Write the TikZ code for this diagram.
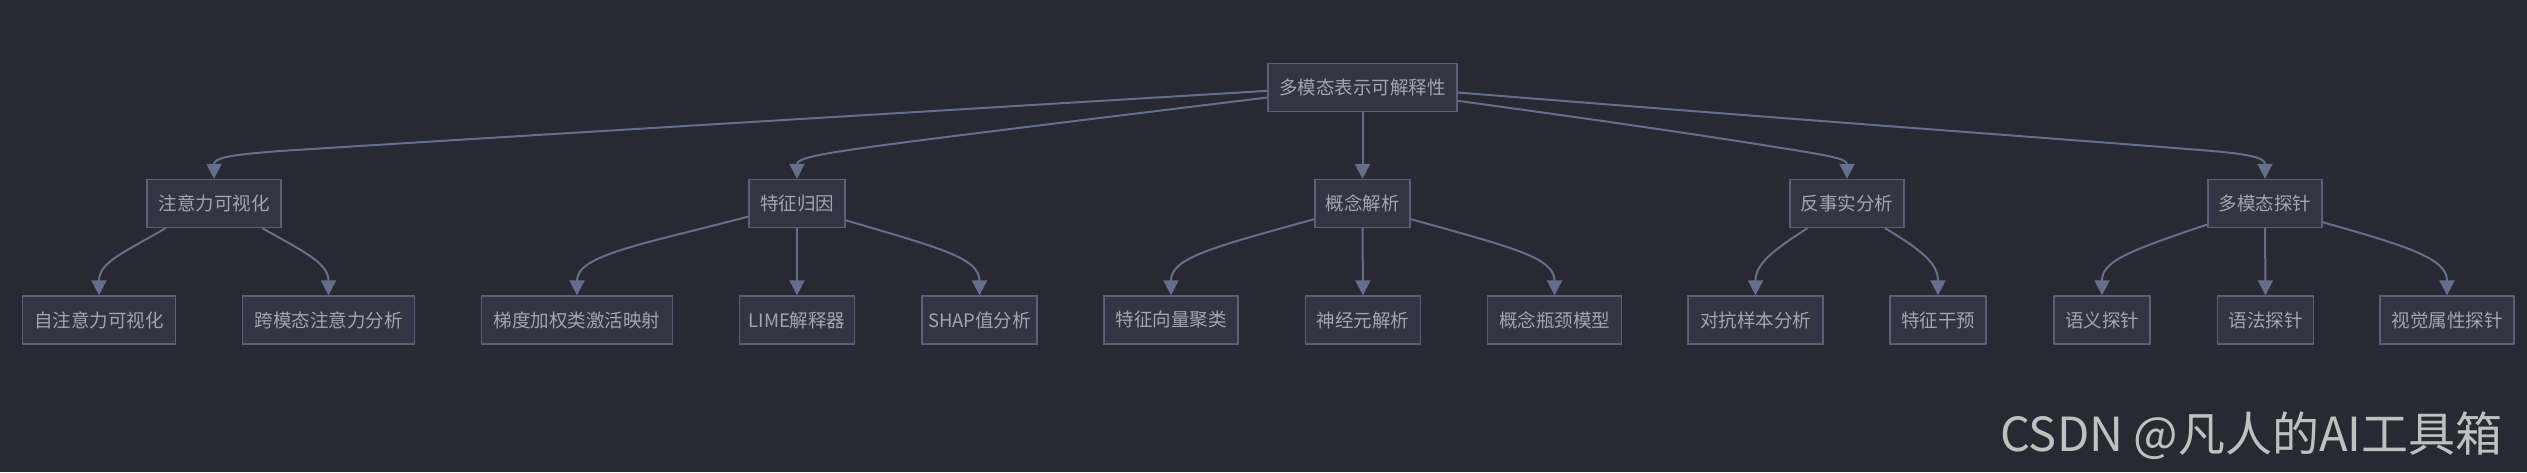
\documentclass[tikz,border=0pt]{standalone}
\usepackage{fontspec}
\setmainfont{Noto Sans CJK SC}
\newfontfamily\wmfont{Noto Sans CJK SC}
\usetikzlibrary{arrows.meta}
\definecolor{bgc}{HTML}{272A33}
\definecolor{boxfill}{HTML}{323642}
\definecolor{boxline}{HTML}{596176}
\definecolor{txt}{HTML}{A2A6B2}
\definecolor{edgec}{HTML}{666F88}
\definecolor{wmc}{HTML}{C0C0C0}
\tikzset{
  box/.style={draw=boxline, fill=boxfill, line width=1.3pt, text=txt,
    minimum height=48pt, inner sep=0pt, font=\fontsize{18.5}{20}\selectfont},
  edge/.style={draw=edgec, line width=2pt, -{Triangle[length=15pt,width=15pt]}}
}
\begin{document}
\begin{tikzpicture}[x=1pt,y=-1pt]
\fill[bgc] (0,0) rectangle (2527,472);
\useasboundingbox (0,0) rectangle (2527,472);
% root
\node[box, minimum width=189pt] (root) at (1362.5,87.5) {多模态表示可解释性};
% level 1
\node[box, minimum width=134pt] (a1) at (214,203.5) {注意力可视化};
\node[box, minimum width=96pt] (a2) at (797,203.5) {特征归因};
\node[box, minimum width=95pt] (a3) at (1362.5,203.5) {概念解析};
\node[box, minimum width=114pt] (a4) at (1847,203.5) {反事实分析};
\node[box, minimum width=114pt] (a5) at (2265,203.5) {多模态探针};
% level 2
\node[box, minimum width=153pt] (b1) at (99,320) {自注意力可视化};
\node[box, minimum width=172pt] (b2) at (328.5,320) {跨模态注意力分析};
\node[box, minimum width=191pt] (b3) at (577,320) {梯度加权类激活映射};
\node[box, minimum width=115pt] (b4) at (797,320) {LIME解释器};
\node[box, minimum width=115pt] (b5) at (979.5,320) {SHAP值分析};
\node[box, minimum width=134pt] (b6) at (1171,320) {特征向量聚类};
\node[box, minimum width=115pt] (b7) at (1363,320) {神经元解析};
\node[box, minimum width=134pt] (b8) at (1554.5,320) {概念瓶颈模型};
\node[box, minimum width=135pt] (b9) at (1755.5,320) {对抗样本分析};
\node[box, minimum width=96pt] (b10) at (1938,320) {特征干预};
\node[box, minimum width=96pt] (b11) at (2102,320) {语义探针};
\node[box, minimum width=96pt] (b12) at (2265.5,320) {语法探针};
\node[box, minimum width=134pt] (b13) at (2447,320) {视觉属性探针};
% root edges
\draw[edge] (root.182.4) .. controls (900,113) and (500,137) .. (280,151) .. controls (228,155) and (214,158) .. (a1.north);
\draw[edge] (root.186.7) .. controls (1100,118) and (950,136) .. (870,147) .. controls (812,155) and (797,159) .. (a2.north);
\draw[edge] (root.south) -- (a3.north);
\draw[edge] (root.352.8) .. controls (1600,120) and (1720,138) .. (1775,147) .. controls (1833,156) and (1847,159) .. (a4.north);
\draw[edge] (root.357) .. controls (1800,120) and (2050,138) .. (2200,150) .. controls (2252,154) and (2265,158) .. (a5.north);
% level 2 edges
\draw[edge] (a1.207) .. controls (125,252) and (99,262) .. (b1.north);
\draw[edge] (a1.333) .. controls (300,250) and (328.5,262) .. (b2.north);
\draw[edge] (a2.195.7) .. controls (640,245) and (577,255) .. (b3.north);
\draw[edge] (a2.south) -- (b4.north);
\draw[edge] (a2.341) .. controls (940,248) and (979.5,258) .. (b5.north);
\draw[edge] (a3.198) .. controls (1210,248) and (1171,258) .. (b6.north);
\draw[edge] (a3.south) -- (b7.north);
\draw[edge] (a3.342) .. controls (1515,248) and (1554.5,258) .. (b8.north);
\draw[edge] (a4.212.8) .. controls (1770,252) and (1755.5,265) .. (b9.north);
\draw[edge] (a4.327) .. controls (1925,252) and (1938,265) .. (b10.north);
\draw[edge] (a5.200.7) .. controls (2125,252) and (2102,262) .. (b11.north);
\draw[edge] (a5.south) -- (b12.north);
\draw[edge] (a5.342) .. controls (2415,248) and (2447,260) .. (b13.north);
% watermark
\node[anchor=base west, inner sep=0pt, text=wmc, font=\wmfont\fontsize{47}{50}\selectfont] (wm) at (2000,451) {CSDN @凡人的AI工具箱};
\end{tikzpicture}
\end{document}
